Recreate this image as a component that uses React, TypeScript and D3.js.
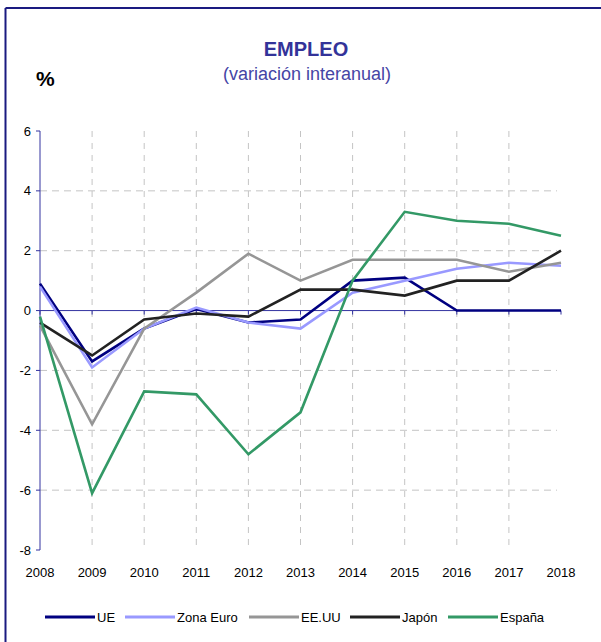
import React from "react";
import * as d3 from "d3";

const years = [2008, 2009, 2010, 2011, 2012, 2013, 2014, 2015, 2016, 2017, 2018];
const ue = [0.9, -1.7, -0.6, 0.05, -0.4, -0.3, 1.0, 1.1, 0.0, 0.0, 0.0];
const zonaEuro = [0.8, -1.9, -0.6, 0.1, -0.4, -0.6, 0.6, 1.0, 1.4, 1.6, 1.5];
const eeuu = [-0.5, -3.8, -0.6, 0.6, 1.9, 1.0, 1.7, 1.7, 1.7, 1.3, 1.6];
const japon = [-0.4, -1.5, -0.3, -0.1, -0.2, 0.7, 0.7, 0.5, 1.0, 1.0, 2.0];
const espana = [-0.2, -6.1, -2.7, -2.8, -4.8, -3.4, 1.0, 3.3, 3.0, 2.9, 2.5];
const yTicks = [-8, -6, -4, -2, 0, 2, 4, 6];
const gridY = [-6, -4, -2, 2, 4];

const series = [
  { name: "UE", values: ue, color: "#000080", lx: 45 },
  { name: "Zona Euro", values: zonaEuro, color: "#9999ff", lx: 125 },
  { name: "EE.UU", values: eeuu, color: "#969696", lx: 249 },
  { name: "Japón", values: japon, color: "#222222", lx: 350 },
  { name: "España", values: espana, color: "#339966", lx: 448 },
];

const FONT = "'Liberation Sans', Arial, sans-serif";

export default function App() {
  const x = d3.scaleLinear().domain([2008, 2018]).range([40, 561]);
  const y = d3.scaleLinear().domain([-8, 6]).range([550, 131]);
  const line = d3
    .line<number>()
    .x((_, i) => x(years[i]))
    .y((d) => y(d));
  const axisColor = "#3333a0";
  const gridColor = "#c4c4c4";

  return (
    <svg
      width={601}
      height={642}
      style={{ position: "absolute", left: 0, top: 0, display: "block", background: "#fff" }}
      fontFamily={FONT}
    >
      <rect x={0} y={0} width={601} height={642} fill="#fff" />
      {/* outer border (cut off right/bottom) */}
      <line x1={5.5} y1={8} x2={5.5} y2={642} stroke="#1a1a80" strokeWidth={2} />
      <line x1={5.5} y1={8} x2={601} y2={8} stroke="#1a1a80" strokeWidth={2} />

      {/* titles */}
      <text x={306} y={56} textAnchor="middle" fontSize={20} fontWeight="bold" fill="#333399">
        EMPLEO
      </text>
      <text x={307} y={80} textAnchor="middle" fontSize={18} fill="#4545a5">
        (variación interanual)
      </text>
      <text x={36} y={86} fontSize={21} fontWeight="bold" fill="#000">
        %
      </text>

      {/* gridlines */}
      {gridY.map((v) => (
        <line
          key={"gy" + v}
          x1={x(2008)}
          x2={x(2018) - 4}
          y1={y(v)}
          y2={y(v)}
          stroke={gridColor}
          strokeWidth={1}
          strokeDasharray="7,5"
        />
      ))}
      {years.slice(1, -1).map((yr) => (
        <line
          key={"gx" + yr}
          x1={x(yr)}
          x2={x(yr)}
          y1={y(6)}
          y2={y(-8)}
          stroke={gridColor}
          strokeWidth={1}
          strokeDasharray="6,6"
        />
      ))}

      {/* y axis */}
      <line x1={x(2008)} x2={x(2008)} y1={y(6)} y2={y(-8)} stroke={axisColor} strokeWidth={1} />
      {yTicks.map((v) => (
        <g key={"yt" + v}>
          <line x1={x(2008) - 4} x2={x(2008)} y1={y(v)} y2={y(v)} stroke={axisColor} strokeWidth={1} />
          <text x={31} y={y(v) + 4.5} textAnchor="end" fontSize={13} fill="#000">
            {v}
          </text>
        </g>
      ))}

      {/* zero axis */}
      <line x1={x(2008)} x2={x(2018)} y1={y(0)} y2={y(0)} stroke={axisColor} strokeWidth={1} />
      {years.map((yr) => (
        <line
          key={"xt" + yr}
          x1={x(yr)}
          x2={x(yr)}
          y1={y(0)}
          y2={y(0) + 4}
          stroke={axisColor}
          strokeWidth={1}
        />
      ))}
      {years.map((yr) => (
        <text key={"xl" + yr} x={x(yr)} y={577} textAnchor="middle" fontSize={13} fill="#000">
          {yr}
        </text>
      ))}

      {/* series */}
      {series.map((s) => (
        <path
          key={s.name}
          d={line(s.values) || ""}
          fill="none"
          stroke={s.color}
          strokeWidth={2.6}
          strokeLinejoin="miter"
        />
      ))}

      {/* legend */}
      {series.map((s) => (
        <g key={"lg" + s.name}>
          <line x1={s.lx} x2={s.lx + 50} y1={617} y2={617} stroke={s.color} strokeWidth={3} />
          <text x={s.lx + 52} y={621.5} fontSize={13} fill="#000">
            {s.name}
          </text>
        </g>
      ))}
    </svg>
  );
}
